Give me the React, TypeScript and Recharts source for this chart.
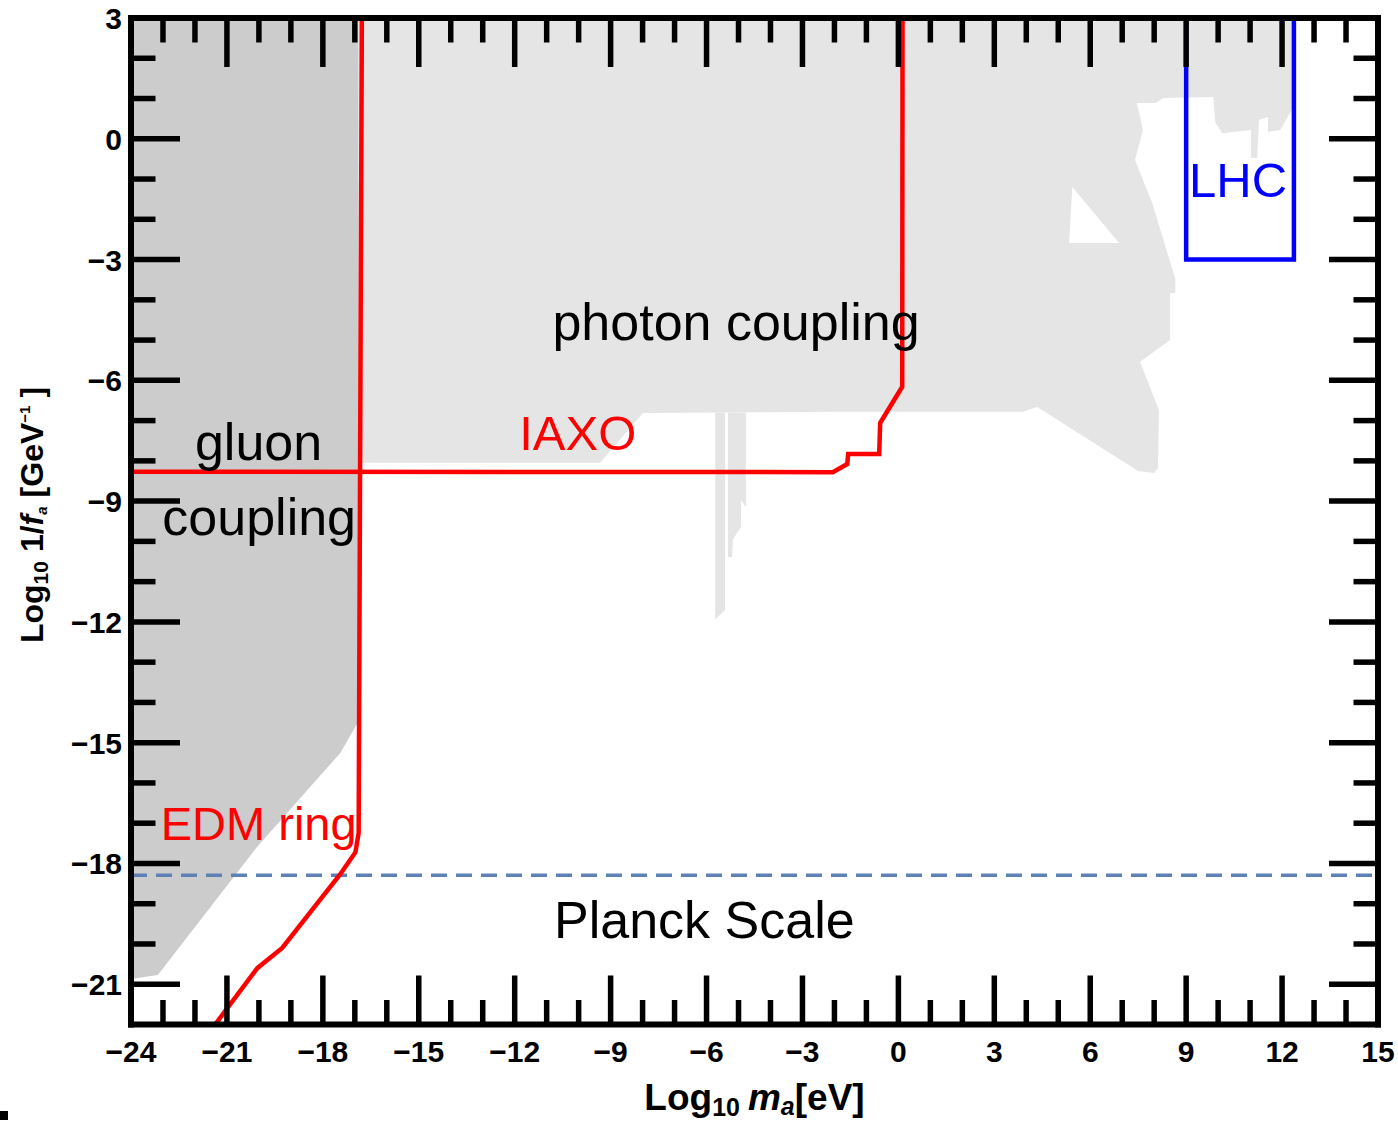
import React from 'react';
import { ComposedChart, XAxis, YAxis, Line, Scatter } from 'recharts';

const FONT = "'Liberation Sans', Arial, Helvetica, sans-serif";

// ---------- axes ----------
const X_DOMAIN: [number, number] = [-24, 15];
const Y_DOMAIN: [number, number] = [-22, 3];
const X_TICKS = [-24, -23, -22, -21, -20, -19, -18, -17, -16, -15, -14, -13, -12, -11, -10, -9, -8, -7, -6, -5, -4, -3, -2, -1, 0, 1, 2, 3, 4, 5, 6, 7, 8, 9, 10, 11, 12, 13, 14, 15];
const Y_TICKS = [-22, -21, -20, -19, -18, -17, -16, -15, -14, -13, -12, -11, -10, -9, -8, -7, -6, -5, -4, -3, -2, -1, 0, 1, 2, 3];
const X_TICK_LABELS = [-24, -21, -18, -15, -12, -9, -6, -3, 0, 3, 6, 9, 12, 15];
const Y_TICK_LABELS = [-21, -18, -15, -12, -9, -6, -3, 0, 3];

// ---------- excluded regions (log10 m_a, log10 1/f_a) ----------
const gluonRegion = [
  { x: -24, y: 3 }, { x: -16.9, y: 3 }, { x: -16.9, y: -14.49 }, { x: -17.46, y: -15.26 },
  { x: -20.06, y: -17.59 }, { x: -23.16, y: -20.77 }, { x: -24, y: -20.87 },
];
const photonRegion = [
  { x: -16.9, y: 3 }, { x: 12.31, y: 3 }, { x: 12.31, y: 0.72 }, { x: 11.94, y: 0.22 },
  { x: 11.56, y: 0.17 }, { x: 11.56, y: 0.54 }, { x: 11.28, y: 0.47 }, { x: 11.22, y: -0.48 },
  { x: 11.03, y: -0.48 }, { x: 11.03, y: 0.22 }, { x: 10.13, y: 0.14 }, { x: 9.91, y: 0.41 },
  { x: 9.85, y: 1.04 }, { x: 8.28, y: 1.01 }, { x: 8.06, y: 0.89 }, { x: 7.46, y: 0.89 },
  { x: 7.65, y: 0.22 }, { x: 7.4, y: -0.53 }, { x: 7.94, y: -1.6 }, { x: 8.66, y: -3.48 },
  { x: 8.66, y: -3.83 }, { x: 8.5, y: -3.83 }, { x: 8.5, y: -5.0 }, { x: 7.56, y: -5.54 },
  { x: 8.15, y: -6.74 }, { x: 8.12, y: -8.18 }, { x: 8.0, y: -8.3 }, { x: 7.5, y: -8.25 },
  { x: 4.34, y: -6.66 }, { x: 3.9, y: -6.78 }, { x: -1.82, y: -6.78 }, { x: -7.99, y: -6.81 },
  { x: -9.33, y: -8.05 }, { x: -16.9, y: -8.05 },
];
const photonStripA = [
  { x: -5.73, y: -6.8 }, { x: -5.42, y: -6.8 }, { x: -5.42, y: -11.7 }, { x: -5.73, y: -11.94 },
];
const photonStripB = [
  { x: -5.33, y: -6.8 }, { x: -4.77, y: -6.8 }, { x: -4.77, y: -9.15 }, { x: -4.92, y: -8.97 },
  { x: -4.92, y: -9.64 }, { x: -5.05, y: -9.79 }, { x: -5.17, y: -9.96 }, { x: -5.2, y: -10.39 },
  { x: -5.33, y: -10.39 },
];
const photonHole = [
  { x: 5.44, y: -1.2 }, { x: 5.34, y: -2.59 }, { x: 6.9, y: -2.59 },
];

// ---------- sensitivity curves ----------
const edmRing = [
  { x: -16.78, y: 3 }, { x: -16.88, y: -17.24 }, { x: -16.98, y: -17.72 }, { x: -17.45, y: -18.26 },
  { x: -19.27, y: -20.1 }, { x: -20.05, y: -20.6 }, { x: -21.37, y: -22 },
];
const iaxo = [
  { x: -24, y: -8.27 }, { x: -2.05, y: -8.28 }, { x: -1.6, y: -8.08 }, { x: -1.57, y: -7.83 },
  { x: -0.6, y: -7.83 }, { x: -0.57, y: -7.06 }, { x: 0.12, y: -6.16 }, { x: 0.13, y: 3 },
];
const lhcBox = [
  { x: 9, y: 3 }, { x: 9, y: -3 }, { x: 12.37, y: -3 }, { x: 12.37, y: 3 },
];
const planckScale = [
  { x: -24, y: -18.29 }, { x: 15, y: -18.29 },
];

// ---------- annotations ----------
const annotations = [
  { x: -10.82, y: -5.0, text: 'photon coupling', kind: 'region' },
  { x: -22.0, y: -7.99, text: 'gluon', kind: 'region' },
  { x: -23.02, y: -9.84, text: 'coupling', kind: 'region' },
  { x: -10.77, y: -19.85, text: 'Planck Scale', kind: 'region' },
  { x: -11.86, y: -7.73, text: 'IAXO', kind: 'experiment' },
  { x: -23.07, y: -17.42, text: 'EDM ring', kind: 'edm' },
  { x: 9.09, y: -1.45, text: 'LHC', kind: 'collider' },
];
const ANNOTATION_STYLE: Record<string, { color: string; size: number }> = {
  region: { color: '#000000', size: 52 },
  experiment: { color: '#ff0000', size: 49 },
  edm: { color: '#ff0000', size: 47 },
  collider: { color: '#0000ff', size: 49 },
};

const MAJOR_LEN = 49;
const MINOR_LEN = 24.5;

const fmt = (v: number) => (v < 0 ? '\u2212' + Math.abs(v) : String(v));

function AxisTick(props: any) {
  const { x, y, payload, side } = props;
  const v = Number(payload.value);
  const major = Math.abs(v % 3) === 0;
  const len = major ? MAJOR_LEN : MINOR_LEN;
  const horizontalAxis = side === 'bottom' || side === 'top';
  const edge = horizontalAxis
    ? v === X_DOMAIN[0] || v === X_DOMAIN[1]
    : v === Y_DOMAIN[0] || v === Y_DOMAIN[1];
  let tickLine: React.ReactNode = null;
  if (!edge) {
    const common = { stroke: '#000', strokeWidth: 5.5 };
    if (side === 'bottom') tickLine = <line x1={x} y1={y} x2={x} y2={y - len} {...common} />;
    if (side === 'top') tickLine = <line x1={x} y1={y} x2={x} y2={y + len} {...common} />;
    if (side === 'left') tickLine = <line x1={x} y1={y} x2={x + len} y2={y} {...common} />;
    if (side === 'right') tickLine = <line x1={x} y1={y} x2={x - len} y2={y} {...common} />;
  }
  let label: React.ReactNode = null;
  if (side === 'bottom' && X_TICK_LABELS.includes(v)) {
    label = (
      <text x={x} y={y + 37.5} textAnchor="middle" fontFamily={FONT} fontWeight="bold" fontSize={30} fill="#000">
        {fmt(v)}
      </text>
    );
  }
  if (side === 'left' && Y_TICK_LABELS.includes(v)) {
    label = (
      <text x={x - 9} y={y + 11} textAnchor="end" fontFamily={FONT} fontWeight="bold" fontSize={30} fill="#000">
        {fmt(v)}
      </text>
    );
  }
  return (
    <g>
      {tickLine}
      {label}
    </g>
  );
}

const polygonLine = (fill: string) => (props: any) => {
  const pts: { x: number; y: number }[] = (props && props.points) || [];
  if (!pts.length) return <g />;
  const d = pts.map((p, i) => `${i ? 'L' : 'M'}${p.x},${p.y}`).join(' ') + ' Z';
  return <path d={d} fill={fill} stroke="none" />;
};

const NoShape = () => <g />;

const AnnotationShape = (props: any) => {
  const { cx, cy, payload } = props;
  const st = ANNOTATION_STYLE[payload.kind];
  return (
    <text x={cx} y={cy} fill={st.color} fontSize={st.size} fontFamily={FONT}>
      {payload.text}
    </text>
  );
};

const XTitle = () => (
  <text x={754.5} y={1110} textAnchor="middle" fontFamily={FONT} fontWeight="bold" fontSize={37} fill="#000">
    <tspan>Log</tspan>
    <tspan fontSize={25} dy={6}>10</tspan>
    <tspan dx={8} dy={-6} fontStyle="italic">m</tspan>
    <tspan fontSize={25} dy={5} fontStyle="italic">a</tspan>
    <tspan dy={-5}>[eV]</tspan>
  </text>
);

const YTitle = () => (
  <text transform="rotate(-90)" x={-515} y={43} textAnchor="middle" fontFamily={FONT} fontWeight="bold" fontSize={32} fill="#000">
    <tspan>Log</tspan>
    <tspan fontSize={21} dy={5}>10</tspan>
    <tspan dx={9} dy={-5}>1/</tspan>
    <tspan fontStyle="italic">f</tspan>
    <tspan fontSize={15} dy={4} fontStyle="italic">a</tspan>
    <tspan dx={9} dy={-4}>[GeV</tspan>
    <tspan fontSize={15} dy={-13}>{'\u22121'}</tspan>
    <tspan dx={8} dy={13}>]</tspan>
  </text>
);

const frameLine = { stroke: '#000', strokeWidth: 6, strokeLinecap: 'square' as const };

export default function App() {
  return (
    <div style={{ position: 'absolute', left: 0, top: 0, width: 1398, height: 1122, background: '#fff' }}>
      <ComposedChart width={1398} height={1122} margin={{ top: 10, right: 10, bottom: 37.5, left: 71 }}>
        <Scatter xAxisId="b" yAxisId="l" data={photonRegion} dataKey="y" line={polygonLine('#e5e5e5')} lineType="joint" shape={NoShape} isAnimationActive={false} zIndex={100} />
        <Scatter xAxisId="b" yAxisId="l" data={photonStripA} dataKey="y" line={polygonLine('#e5e5e5')} lineType="joint" shape={NoShape} isAnimationActive={false} zIndex={100} />
        <Scatter xAxisId="b" yAxisId="l" data={photonStripB} dataKey="y" line={polygonLine('#e5e5e5')} lineType="joint" shape={NoShape} isAnimationActive={false} zIndex={100} />
        <Scatter xAxisId="b" yAxisId="l" data={photonHole} dataKey="y" line={polygonLine('#ffffff')} lineType="joint" shape={NoShape} isAnimationActive={false} zIndex={101} />
        <Scatter xAxisId="b" yAxisId="l" data={gluonRegion} dataKey="y" line={polygonLine('#cccccc')} lineType="joint" shape={NoShape} isAnimationActive={false} zIndex={102} />

        <Line xAxisId="b" yAxisId="l" data={planckScale} dataKey="y" type="linear" stroke="#5e81b5" strokeWidth={3.5} strokeDasharray="16 9" dot={false} activeDot={false} isAnimationActive={false} />
        <Line xAxisId="b" yAxisId="l" data={iaxo} dataKey="y" type="linear" stroke="#ff0000" strokeWidth={4.5} dot={false} activeDot={false} isAnimationActive={false} />
        <Line xAxisId="b" yAxisId="l" data={edmRing} dataKey="y" type="linear" stroke="#ff0000" strokeWidth={4.5} dot={false} activeDot={false} isAnimationActive={false} />
        <Line xAxisId="b" yAxisId="l" data={lhcBox} dataKey="y" type="linear" stroke="#0000ff" strokeWidth={4.5} dot={false} activeDot={false} isAnimationActive={false} />

        <Scatter xAxisId="b" yAxisId="l" data={annotations} dataKey="y" shape={AnnotationShape} isAnimationActive={false} />

        <XAxis xAxisId="b" orientation="bottom" dataKey="x" type="number" domain={X_DOMAIN} allowDataOverflow ticks={X_TICKS} interval={0} height={60}
          tickLine={false} tickSize={0} tickMargin={0} axisLine={frameLine}
          tick={(p: any) => <AxisTick {...p} side="bottom" />} label={{ content: XTitle }} />
        <XAxis xAxisId="t" orientation="top" dataKey="x" type="number" domain={X_DOMAIN} allowDataOverflow ticks={X_TICKS} interval={0} height={8}
          tickLine={false} tickSize={0} tickMargin={0} axisLine={frameLine}
          tick={(p: any) => <AxisTick {...p} side="top" />} />
        <YAxis yAxisId="l" orientation="left" dataKey="y" type="number" domain={Y_DOMAIN} allowDataOverflow ticks={Y_TICKS} interval={0} width={60}
          tickLine={false} tickSize={0} tickMargin={0} axisLine={frameLine}
          tick={(p: any) => <AxisTick {...p} side="left" />} label={{ content: YTitle }} />
        <YAxis yAxisId="r" orientation="right" dataKey="y" type="number" domain={Y_DOMAIN} allowDataOverflow ticks={Y_TICKS} interval={0} width={10}
          tickLine={false} tickSize={0} tickMargin={0} axisLine={frameLine}
          tick={(p: any) => <AxisTick {...p} side="right" />} />
      </ComposedChart>
      <div style={{ position: 'absolute', left: 0, top: 1111, width: 8, height: 9, background: '#000' }} />
    </div>
  );
}
